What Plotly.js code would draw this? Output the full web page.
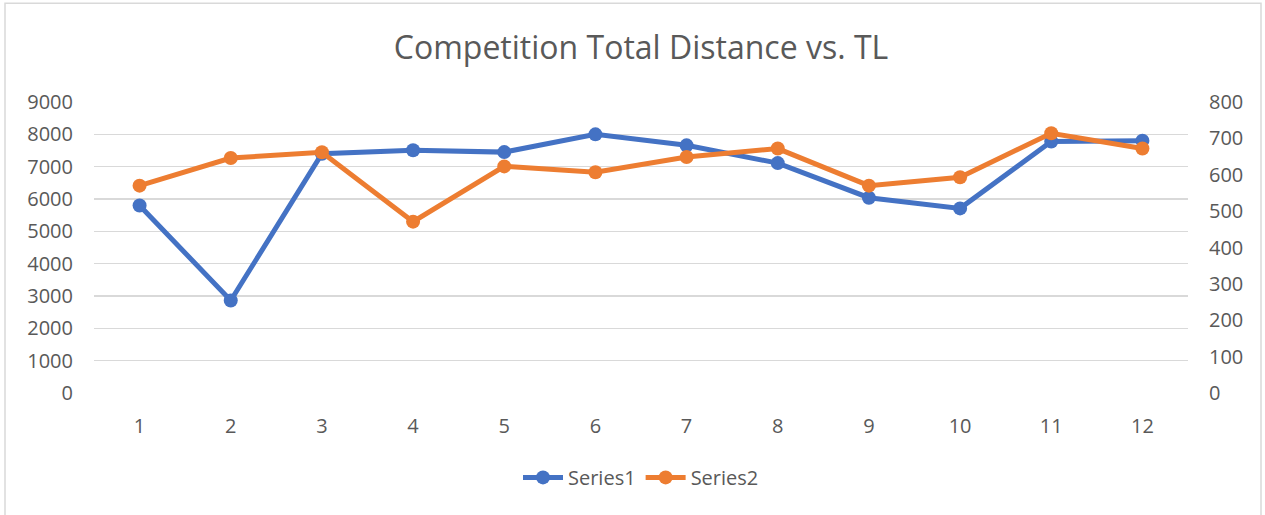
<!DOCTYPE html>
<html>
<head>
<meta charset="utf-8">
<script src="https://cdn.plot.ly/plotly-3.0.1.min.js"></script>
<style>
html,body{margin:0;padding:0;background:#fff;}
#chart{width:1265px;height:515px;}
</style>
</head>
<body>
<div id="chart"></div>
<script>
const categories = [1,2,3,4,5,6,7,8,9,10,11,12];
const series1 = [5800, 2860, 7400, 7510, 7450, 8000, 7660, 7110, 6040, 5710, 7780, 7800];
const series2 = [570, 646, 662, 471, 623, 607, 649, 672, 570, 593, 714, 672];
const leftTicks = [0,1000,2000,3000,4000,5000,6000,7000,8000,9000];
const rightTicks = [0,100,200,300,400,500,600,700,800];

const FONT = '"Open Sans", "Noto Sans", sans-serif';
const TXT = '#595959';

const traces = [
  {x: categories, y: series1, name: 'Series1', type: 'scatter', mode: 'lines+markers',
   line: {color: '#4472C4', width: 5}, marker: {color: '#4472C4', size: 14}, yaxis: 'y'},
  {x: categories, y: series2, name: 'Series2', type: 'scatter', mode: 'lines+markers',
   line: {color: '#ED7D31', width: 5}, marker: {color: '#ED7D31', size: 14}, yaxis: 'y2'}
];

const layout = {
  width: 1265, height: 515,
  paper_bgcolor: '#fff', plot_bgcolor: '#fff',
  margin: {l: 94, r: 77, t: 102, b: 122},
  font: {family: FONT, color: TXT, size: 20},
  title: {text: 'Competition Total Distance vs. TL', x: 0.5, xref: 'paper', xanchor: 'center',
          y: 1 - 48/515, yref: 'container', yanchor: 'middle',
          font: {family: FONT, size: 32, color: TXT}},
  showlegend: true,
  legend: {orientation: 'h', x: 0.5, xanchor: 'center', y: -0.29, yanchor: 'middle',
           font: {family: FONT, size: 20, color: TXT}, itemwidth: 40, tracegroupgap: 0},
  xaxis: {range: [0.5, 12.5], tickmode: 'array', tickvals: categories, ticktext: categories.map(String),
          showgrid: false, zeroline: false, showline: false, ticks: '', ticklabelstandoff: 19,
          fixedrange: true},
  yaxis: {range: [0, 9000], tickmode: 'array', tickvals: leftTicks, ticktext: leftTicks.map(String),
          showgrid: true, gridcolor: '#D9D9D9', gridwidth: 1.3, zeroline: false, showline: false,
          ticks: '', ticklabelstandoff: 20},
  yaxis2: {range: [0, 800], overlaying: 'y', side: 'right', tickmode: 'array', tickvals: rightTicks,
           ticktext: rightTicks.map(String), showgrid: false, zeroline: false, showline: false,
           ticks: '', ticklabelstandoff: 20},
  shapes: [{type: 'rect', xref: 'paper', yref: 'paper', layer: 'below',
            x0: (5-94)/1094, x1: (1261-94)/1094, y0: (393.3-530)/290.6, y1: (393.3-4)/290.6,
            line: {color: '#D9D9D9', width: 1.5}, fillcolor: 'rgba(0,0,0,0)'}]
};

Plotly.newPlot('chart', traces, layout, {displayModeBar: false, staticPlot: true});
</script>
</body>
</html>
